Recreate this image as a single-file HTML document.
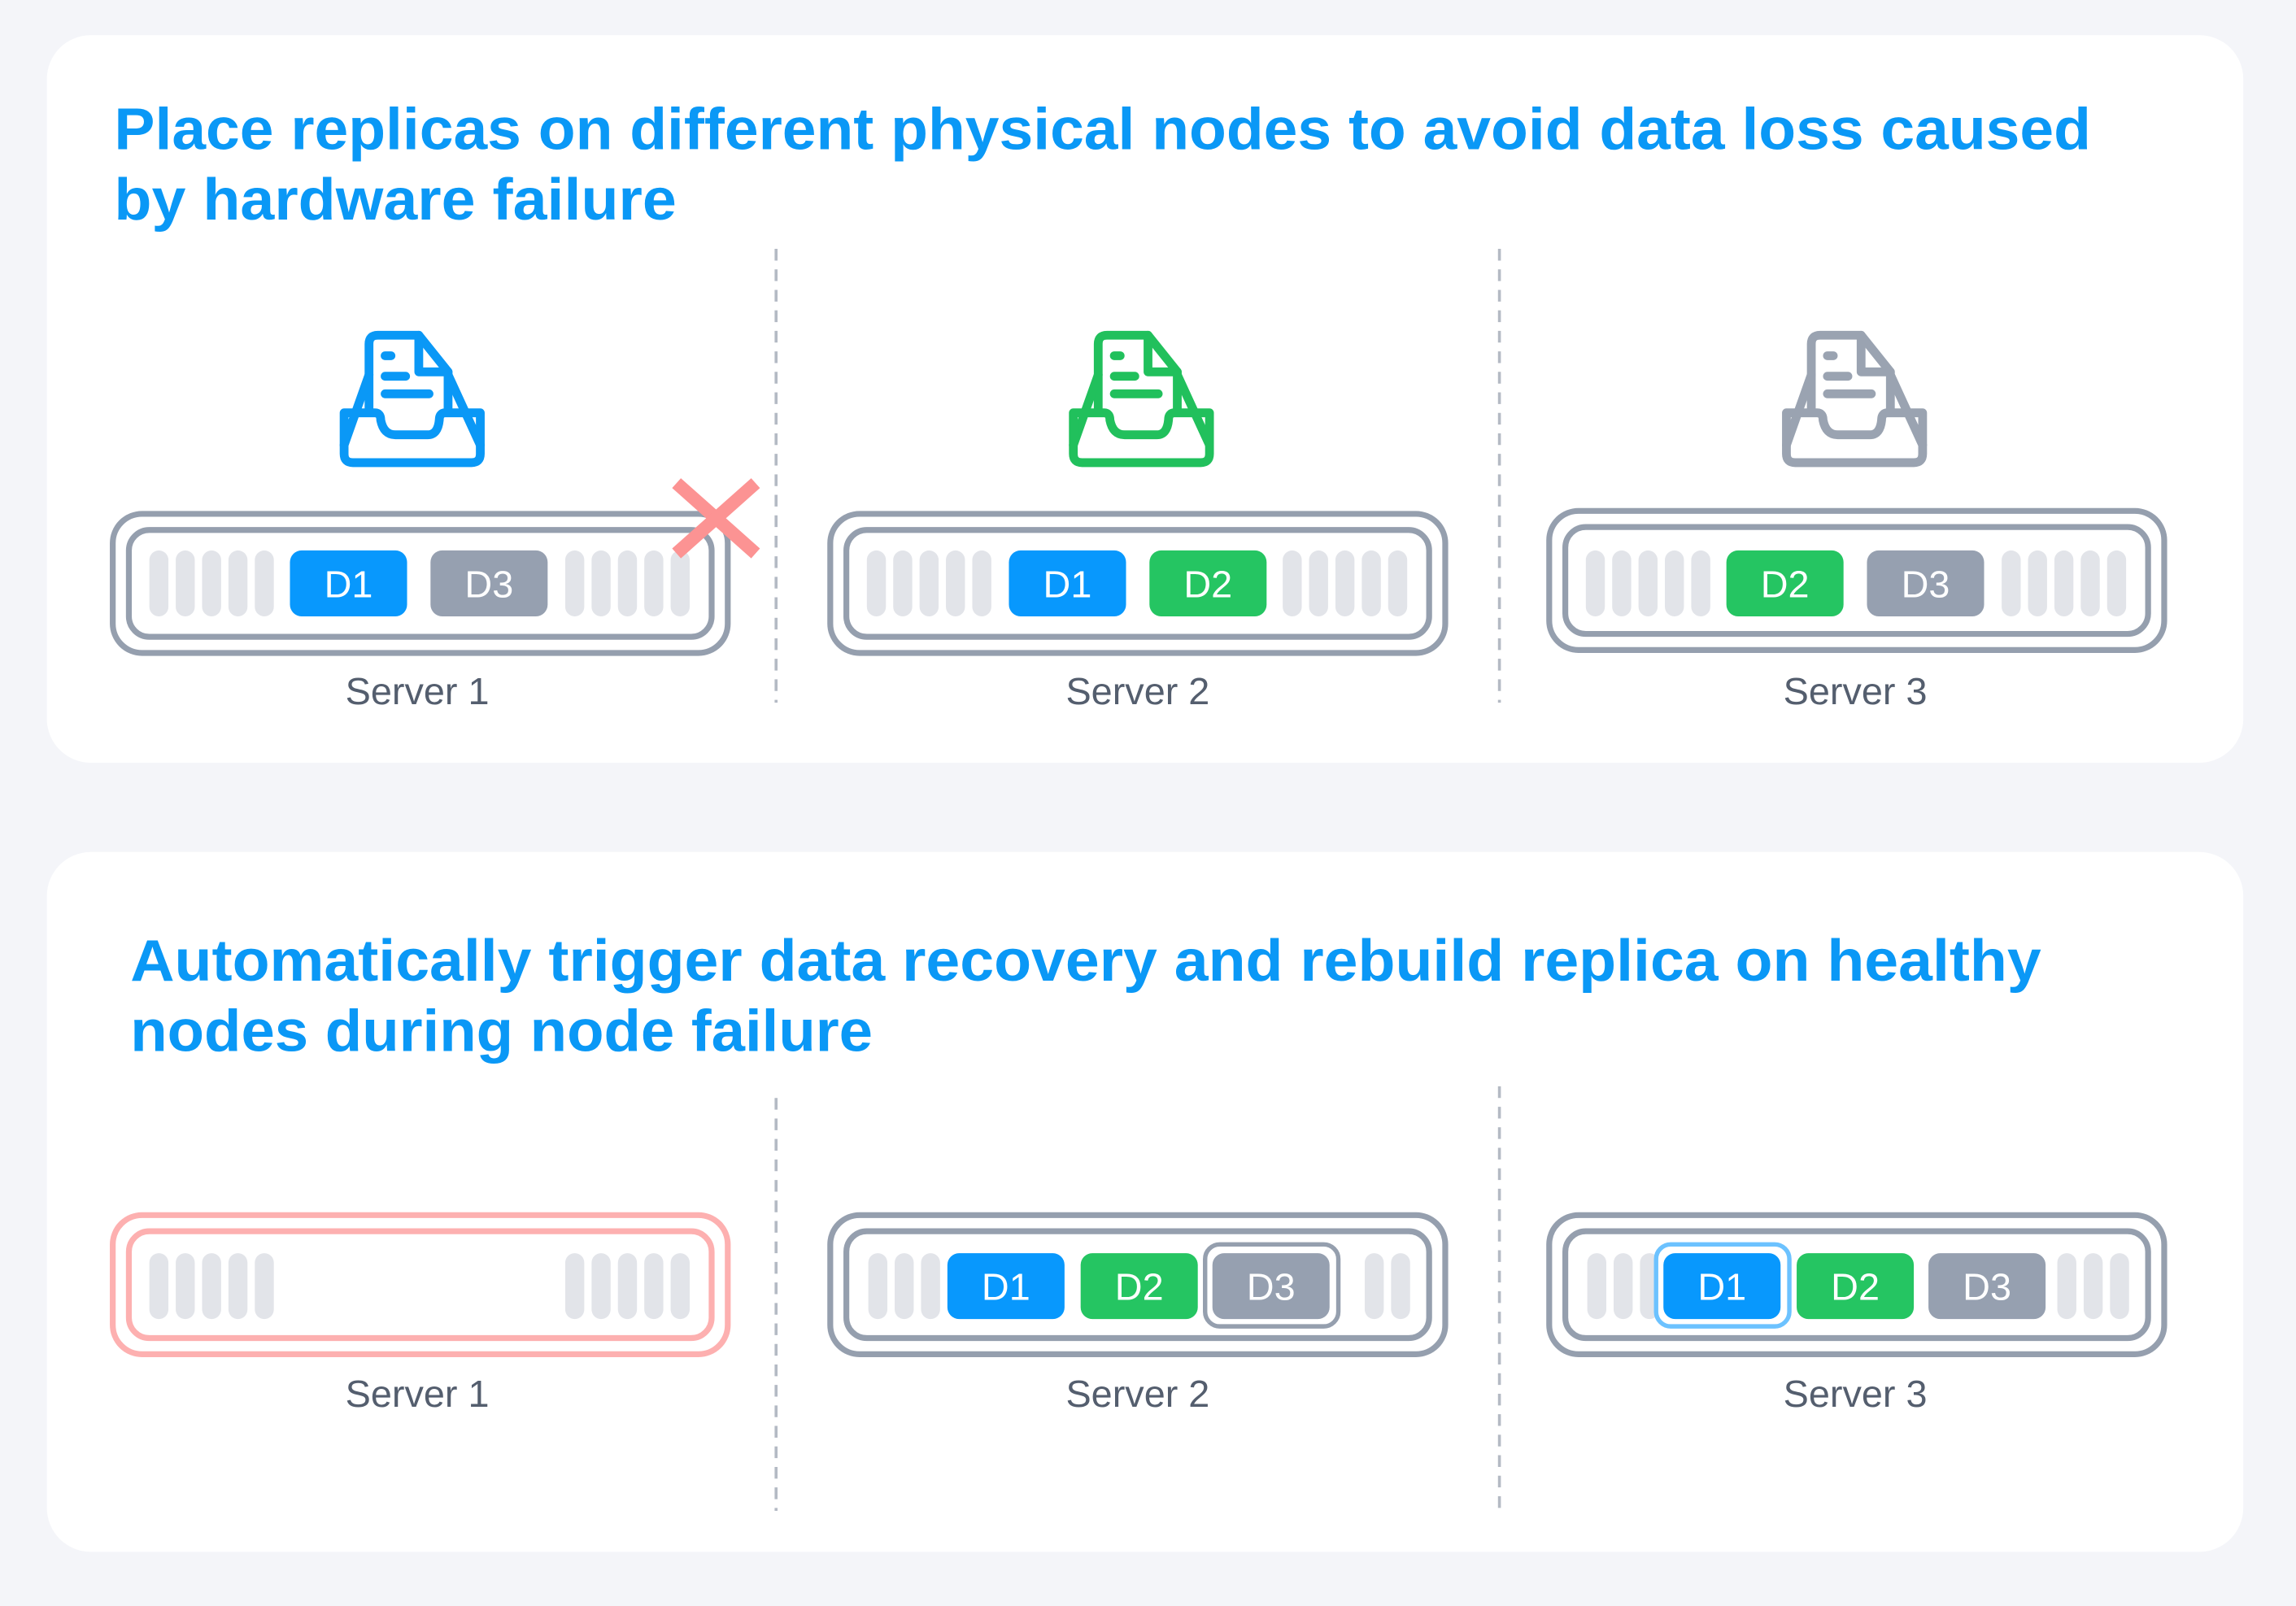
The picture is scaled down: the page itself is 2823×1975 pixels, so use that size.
<!DOCTYPE html>
<html><head><meta charset="utf-8"><style>
html,body{margin:0;padding:0;background:#f4f5f9;}
svg{display:block;}
text{font-family:"Liberation Sans",sans-serif;}
</style></head><body>
<svg width="2823" height="1975" viewBox="0 0 1568 1097" xmlns="http://www.w3.org/2000/svg">
<defs>
<g id="icon" fill="none" stroke-width="6" stroke-linejoin="round" stroke-linecap="round">
  <path d="M20 55 L20 9 Q20 3 26 3 L54 3 L74 28 L74 55"/>
  <path d="M54 3 L54 28 L74 28"/>
  <path d="M31 17 L35 17 M31 31 L45 31 M31 43 L61 43"/>
  <path d="M20 30 L3 78 M74 30 L96 78"/>
  <path d="M3 56 L24 56 Q28 56 28 61 Q30 71 38 71 L60 71 Q67 71 68 61 Q68 56 72 56 L96 56 L96 84 Q96 90 90 90 L9 90 Q3 90 3 84 Z"/>
</g>
<g id="p5" fill="#e2e4e9">
  <rect x="0" y="0" width="13" height="45" rx="6.5"/><rect x="18" y="0" width="13" height="45" rx="6.5"/><rect x="36" y="0" width="13" height="45" rx="6.5"/><rect x="54" y="0" width="13" height="45" rx="6.5"/><rect x="72" y="0" width="13" height="45" rx="6.5"/>
</g>
<g id="p3" fill="#e2e4e9">
  <rect x="0" y="0" width="13" height="45" rx="6.5"/><rect x="18" y="0" width="13" height="45" rx="6.5"/><rect x="36" y="0" width="13" height="45" rx="6.5"/>
</g>
<g id="srv" fill="none" stroke="#959fae" stroke-width="4">
  <rect x="0" y="0" width="420" height="95" rx="20"/>
  <rect x="11" y="11" width="398" height="73" rx="14"/>
</g>
</defs>
<rect width="1568" height="1097" fill="#f4f5f9"/>
<rect x="32" y="24" width="1500" height="497" rx="30" fill="#fff"/>
<rect x="32" y="582" width="1500" height="478" rx="30" fill="#fff"/>

<g fill="#0a98f6" font-size="40" font-weight="bold">
<text x="78" y="102" textLength="1350" lengthAdjust="spacingAndGlyphs">Place replicas on different physical nodes to avoid data loss caused</text>
<text x="78" y="150" textLength="384" lengthAdjust="spacingAndGlyphs">by hardware failure</text>
<text x="89" y="670" textLength="1305" lengthAdjust="spacingAndGlyphs">Automatically trigger data recovery and rebuild replica on healthy</text>
<text x="89" y="718" textLength="507" lengthAdjust="spacingAndGlyphs">nodes during node failure</text>
</g>

<g stroke="#b4bac4" stroke-width="2" stroke-dasharray="8 6">
<line x1="530" y1="170" x2="530" y2="480"/><line x1="1024" y1="170" x2="1024" y2="480"/>
<line x1="530" y1="750" x2="530" y2="1032"/><line x1="1024" y1="742" x2="1024" y2="1030"/>
</g>

<use href="#icon" x="232" y="226" stroke="#0a98f6"/>
<use href="#icon" x="730" y="226" stroke="#21c05c"/>
<use href="#icon" x="1217" y="226" stroke="#9aa3b1"/>

<g font-size="26" fill="#545e6e" text-anchor="middle">
<text x="285" y="481">Server 1</text><text x="777" y="481">Server 2</text><text x="1267" y="481">Server 3</text>
<text x="285" y="961">Server 1</text><text x="777" y="961">Server 2</text><text x="1267" y="961">Server 3</text>
</g>

<use href="#srv" x="77" y="351"/>
<use href="#p5" x="102" y="376"/><use href="#p5" x="386" y="376"/>
<rect x="198" y="376" width="80" height="45" rx="8" fill="#0898fd"/>
<rect x="294" y="376" width="80" height="45" rx="8" fill="#96a0b0"/>
<g stroke="#fc9393" stroke-width="9"><line x1="462" y1="330" x2="516" y2="378"/><line x1="516" y1="330" x2="462" y2="378"/></g>

<use href="#srv" x="567" y="351"/>
<use href="#p5" x="592" y="376"/><use href="#p5" x="876" y="376"/>
<rect x="689" y="376" width="80" height="45" rx="8" fill="#0898fd"/>
<rect x="785" y="376" width="80" height="45" rx="8" fill="#25c562"/>

<use href="#srv" x="1058" y="349"/>
<use href="#p5" x="1083" y="376"/><use href="#p5" x="1367" y="376"/>
<rect x="1179" y="376" width="80" height="45" rx="8" fill="#25c562"/>
<rect x="1275" y="376" width="80" height="45" rx="8" fill="#96a0b0"/>

<g fill="none" stroke="#fdb0b0" stroke-width="4">
<rect x="77" y="830" width="420" height="95" rx="20"/><rect x="88" y="841" width="398" height="73" rx="14"/>
</g>
<use href="#p5" x="102" y="856"/><use href="#p5" x="386" y="856"/>

<use href="#srv" x="567" y="830"/>
<use href="#p3" x="593" y="856"/>
<rect x="932" y="856" width="13" height="45" rx="6.5" fill="#e2e4e9"/><rect x="950" y="856" width="13" height="45" rx="6.5" fill="#e2e4e9"/>
<rect x="647" y="856" width="80" height="45" rx="8" fill="#0898fd"/>
<rect x="738" y="856" width="80" height="45" rx="8" fill="#25c562"/>
<rect x="823" y="850" width="91" height="56" rx="10" fill="#fff" stroke="#959fae" stroke-width="3"/>
<rect x="828" y="856" width="80" height="45" rx="8" fill="#96a0b0"/>

<use href="#srv" x="1058" y="830"/>
<use href="#p3" x="1084" y="856"/>
<use href="#p3" x="1405" y="856"/>
<rect x="1131" y="850" width="91" height="56" rx="10" fill="#fff" stroke="#6cc2ff" stroke-width="3"/>
<rect x="1136" y="856" width="80" height="45" rx="8" fill="#0898fd"/>
<rect x="1227" y="856" width="80" height="45" rx="8" fill="#25c562"/>
<rect x="1317" y="856" width="80" height="45" rx="8" fill="#96a0b0"/>

<g font-size="26" fill="#fff" text-anchor="middle">
<text x="238" y="408">D1</text><text x="334" y="408">D3</text>
<text x="729" y="408">D1</text><text x="825" y="408">D2</text>
<text x="1219" y="408">D2</text><text x="1315" y="408">D3</text>
<text x="687" y="888">D1</text><text x="778" y="888">D2</text><text x="868" y="888">D3</text>
<text x="1176" y="888">D1</text><text x="1267" y="888">D2</text><text x="1357" y="888">D3</text>
</g>
</svg>
</body></html>
